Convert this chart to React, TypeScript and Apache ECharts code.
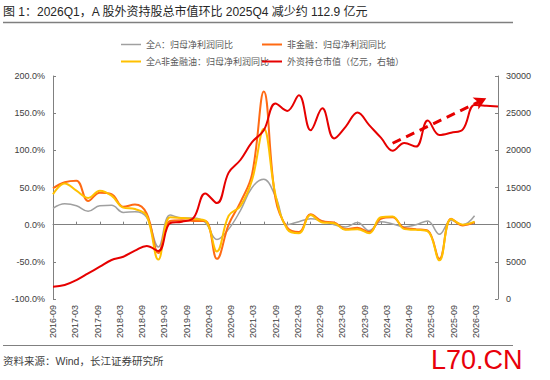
import React, { useEffect, useRef } from "react";
import * as echarts from "echarts";

const quarters = [
  "2016-09", "2016-12", "2017-03", "2017-06", "2017-09", "2017-12", "2018-03", "2018-06",
  "2018-09", "2018-12", "2019-03", "2019-06", "2019-09", "2019-12", "2020-03", "2020-06",
  "2020-09", "2020-12", "2021-03", "2021-06", "2021-09", "2021-12", "2022-03", "2022-06",
  "2022-09", "2022-12", "2023-03", "2023-06", "2023-09", "2023-12", "2024-03", "2024-06",
  "2024-09", "2024-12", "2025-03", "2025-06", "2025-09", "2025-12", "2026-03",
];

const tickLabels = [
  "2016-09", "2017-03", "2017-09", "2018-03", "2018-09", "2019-03", "2019-09", "2020-03",
  "2020-09", "2021-03", "2021-09", "2022-03", "2022-09", "2023-03", "2023-09", "2024-03",
  "2024-09", "2025-03", "2025-09", "2026-03", "",
];

const allA = [
  22, 28, 25.5, 18, 25.5, 26, 16.5, 17.5, 10, -30, 13, 9, 9, 3, -20, -6, 19, 50, 61, 38,
  0, 4, 8, 5, 0, -3, 3, -8, 4, 1, -3, 0, 5, -13, 6, 0, 12,
];

const nonFin = [
  49, 57, 59, 32, 43, 41, 24, 27, 15, -38, 5, 6, 5, 5, -46, 0, 30, 68, 179, 35,
  -4, -10, 14, 4.5, 3, -6, -4, -10, 8, 10, -4.5, -6, -8, -46, 8, -1, 3,
];

const nonFinOil = [
  41, 55.5, 45.7, 36, 45.7, 39, 23, 21, 12, -47, 10, 9, 7.6, 5.4, -36, 12, 25, 60, 129, 40,
  -6, -11.6, 13, 3, 2, -7, -6, -11.6, 10, 11, -6, -7, -9, -48, 7.6, 0, 4,
];

const foreignHold = [
  1650, 1880, 2550, 3450, 4350, 5250, 5690, 6500, 7130, 6450, 10200, 10400, 10900, 14200,
  12900, 17000, 18700, 21100, 22700, 26300, 25300, 27400, 22700, 25650, 21600, 23200, 25100,
  23400, 21700, 19950, 21000, 20500, 24000, 22060, 22370, 22820, 26090, 26000, 25887,
];

const arrowFrom = [28.9, 20950];
const arrowTo = [36.5, 27000];

const names = [
  "全A：归母净利润同比",
  "非金融：归母净利润同比",
  "全A非金融油：归母净利润同比",
  "外资持仓市值（亿元，右轴）",
];

const FONT = '"Liberation Sans", Arial, "Noto Sans CJK SC", sans-serif';
const axisColor = "#808080";
const labelColor = "#404040";

export default function App() {
  const ref = useRef<HTMLDivElement>(null);
  useEffect(() => {
    if (!ref.current) return;
    const chart = echarts.init(ref.current, null, { renderer: "svg" });
    const legendBase = {
      padding: 0,
      itemWidth: 20,
      itemHeight: 2,
      icon: "rect",
      textStyle: { fontSize: 9, color: "#595959", fontFamily: FONT },
    };
    chart.setOption({
      animation: false,
      textStyle: { fontFamily: FONT },
      grid: { left: 53, right: 52, top: 76, bottom: 81, containLabel: false },
      legend: [
        { ...legendBase, data: [names[0]], left: 121, top: 40, itemHeight: 1.5 },
        { ...legendBase, data: [names[1]], left: 262, top: 40 },
        { ...legendBase, data: [names[2]], left: 121, top: 57 },
        { ...legendBase, data: [names[3]], left: 262, top: 57 },
      ],
      xAxis: [
        {
          type: "category",
          data: quarters,
          boundaryGap: false,
          axisLine: { onZero: true, lineStyle: { color: axisColor, width: 1 } },
          axisTick: { interval: 1, inside: true, length: 3, lineStyle: { color: axisColor } },
          axisLabel: { show: false },
          splitLine: { show: false },
        },
        {
          type: "category",
          data: tickLabels,
          boundaryGap: false,
          position: "bottom",
          axisLine: { show: false, onZero: false },
          axisTick: { show: false },
          axisLabel: {
            interval: 0,
            rotate: 90,
            fontSize: 9,
            color: labelColor,
            margin: 6,
            fontFamily: FONT,
          },
          splitLine: { show: false },
        },
      ],
      yAxis: [
        {
          type: "value",
          min: -100,
          max: 200,
          interval: 50,
          axisLine: { show: true, lineStyle: { color: axisColor } },
          axisTick: { show: true, inside: true, length: 3, lineStyle: { color: axisColor } },
          axisLabel: {
            fontSize: 9,
            color: labelColor,
            margin: 8,
            fontFamily: FONT,
            formatter: (v: number) => v.toFixed(1) + "%",
          },
          splitLine: { show: false },
        },
        {
          type: "value",
          min: 0,
          max: 30000,
          interval: 5000,
          position: "right",
          axisLine: { show: true, lineStyle: { color: axisColor } },
          axisTick: { show: true, inside: true, length: 3, lineStyle: { color: axisColor } },
          axisLabel: {
            fontSize: 9,
            color: labelColor,
            margin: 8,
            fontFamily: FONT,
            formatter: (v: number) => String(v),
          },
          splitLine: { show: false },
        },
      ],
      series: [
        {
          name: names[0],
          type: "line",
          data: allA,
          smooth: 0.4,
          symbol: "none",
          lineStyle: { color: "#a0a0a0", width: 1.5 },
          itemStyle: { color: "#a0a0a0" },
        },
        {
          name: names[1],
          type: "line",
          data: nonFin,
          smooth: 0.4,
          symbol: "none",
          lineStyle: { color: "#ff6a13", width: 2 },
          itemStyle: { color: "#ff6a13" },
        },
        {
          name: names[2],
          type: "line",
          data: nonFinOil,
          smooth: 0.4,
          symbol: "none",
          lineStyle: { color: "#ffc000", width: 2 },
          itemStyle: { color: "#ffc000" },
        },
        {
          name: names[3],
          type: "line",
          yAxisIndex: 1,
          data: foreignHold,
          smooth: 0.4,
          symbol: "none",
          lineStyle: { color: "#e60000", width: 2 },
          itemStyle: { color: "#e60000" },
          markLine: {
            silent: true,
            symbol: ["none", "arrow"],
            symbolSize: [10, 12],
            label: { show: false },
            lineStyle: { color: "#e60000", width: 3, type: [9, 6] },
            data: [[{ coord: arrowFrom }, { coord: arrowTo }]],
          },
        },
      ],
      graphic: [
        {
          type: "text",
          left: 3,
          top: 6,
          style: {
            text: "图 1：2026Q1，A 股外资持股总市值环比 2025Q4 减少约 112.9 亿元",
            fontSize: 12,
            fill: "#262626",
            fontFamily: FONT,
          },
        },
        {
          type: "line",
          shape: { x1: 3, y1: 22.5, x2: 513, y2: 22.5 },
          style: { stroke: "#7f7f7f", lineWidth: 1.5 },
        },
        {
          type: "line",
          shape: { x1: 3, y1: 345.5, x2: 513, y2: 345.5 },
          style: { stroke: "#808080", lineWidth: 1 },
        },
        {
          type: "text",
          left: 3,
          top: 356,
          style: {
            text: "资料来源：Wind，长江证券研究所",
            fontSize: 10.5,
            fill: "#404040",
            fontFamily: FONT,
          },
        },
        {
          type: "text",
          left: 431,
          top: 346,
          style: {
            text: "L70.CN",
            fontSize: 27,
            fill: "#e8000b",
            fontFamily: FONT,
          },
        },
      ],
    });
    return () => chart.dispose();
  }, []);
  return (
    <div
      ref={ref}
      style={{ position: "fixed", left: 0, top: 0, width: 550, height: 380, background: "#fff" }}
    />
  );
}
